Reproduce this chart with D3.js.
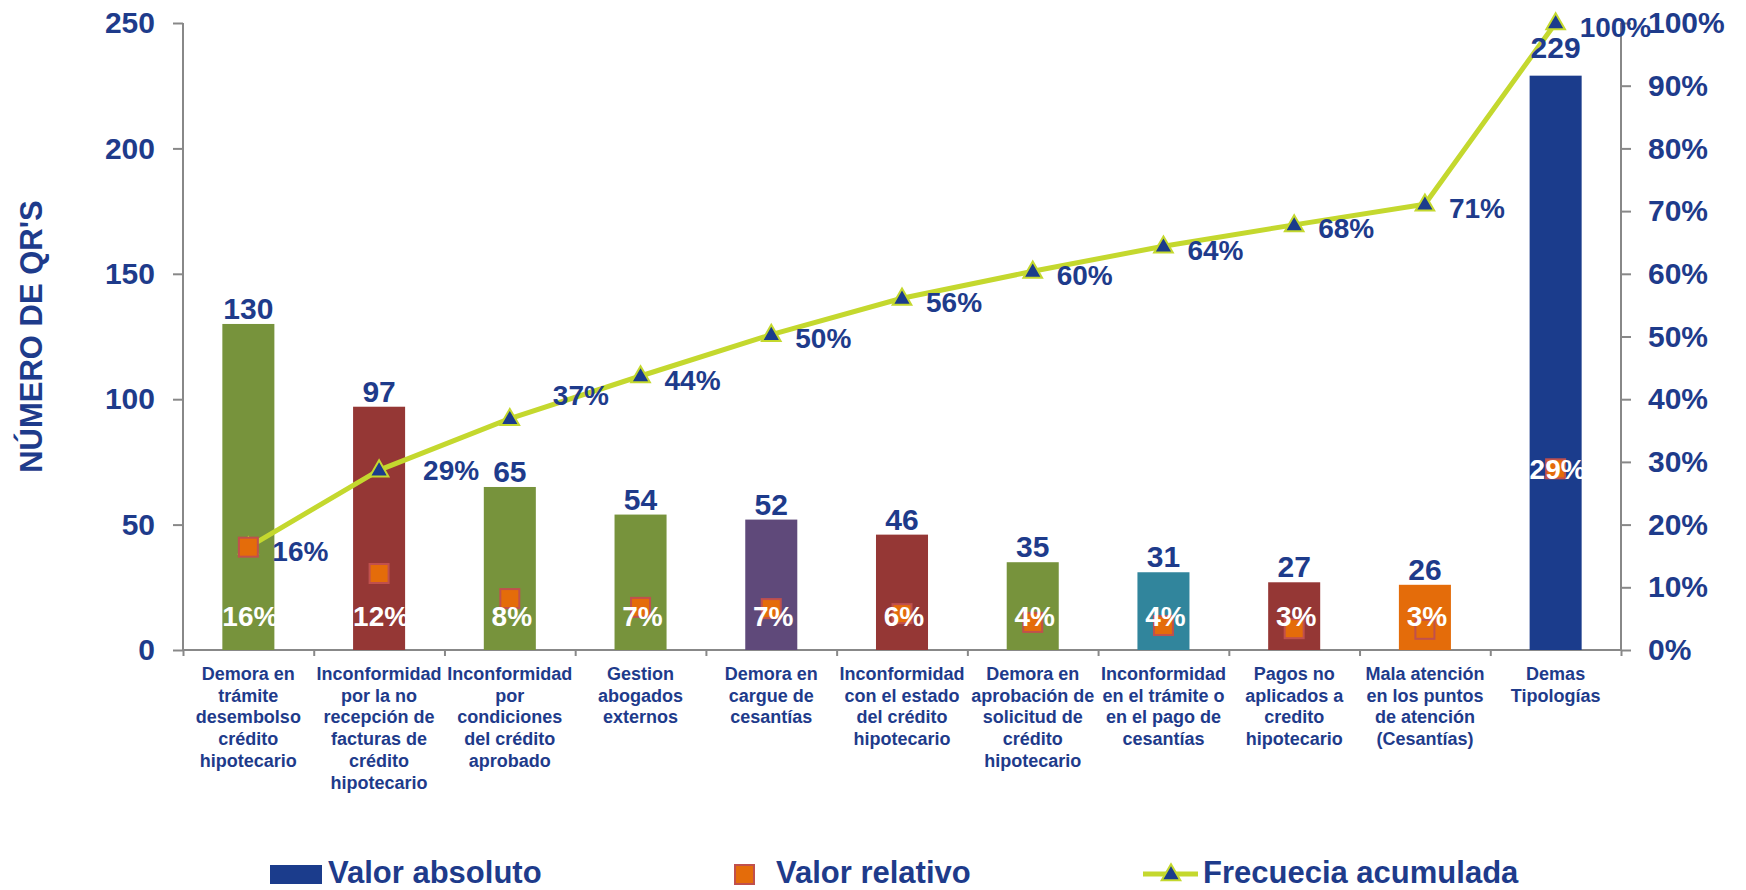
<!DOCTYPE html>
<html>
<head>
<meta charset="utf-8">
<script src="https://cdn.jsdelivr.net/npm/d3@7"></script>
<style>
  html, body { margin: 0; padding: 0; background: #fff; }
  svg { display: block; font-family: "Liberation Sans", Arial, sans-serif; font-weight: bold; }
</style>
</head>
<body>
<svg id="chart" width="1746" height="890"></svg>
<script>
// ---------- DATA ----------
const categories = [
  "Demora en\ntrámite\ndesembolso\ncrédito\nhipotecario",
  "Inconformidad\npor la no\nrecepción de\nfacturas de\ncrédito\nhipotecario",
  "Inconformidad\npor\ncondiciones\ndel crédito\naprobado",
  "Gestion\nabogados\nexternos",
  "Demora en\ncargue de\ncesantías",
  "Inconformidad\ncon el estado\ndel crédito\nhipotecario",
  "Demora en\naprobación de\nsolicitud de\ncrédito\nhipotecario",
  "Inconformidad\nen el trámite o\nen el pago de\ncesantías",
  "Pagos no\naplicados a\ncredito\nhipotecario",
  "Mala atención\nen los puntos\nde atención\n(Cesantías)",
  "Demas\nTipologías"
];
const valorAbsoluto   = [130, 97, 65, 54, 52, 46, 35, 31, 27, 26, 229];
const valorRelativo   = [16.4, 12.2, 8.2, 6.8, 6.6, 5.8, 4.4, 3.9, 3.4, 3.3, 28.9];
const frecuenciaAcum  = [16.4, 28.7, 36.9, 43.7, 50.3, 56.1, 60.4, 64.4, 67.8, 71.1, 100];
const barColors = ["#77933C", "#953735", "#77933C", "#77933C", "#5F497A", "#953735",
                   "#77933C", "#31859C", "#953735", "#E46C0A", "#1B3C8C"];
const leftTicks  = [0, 50, 100, 150, 200, 250];
const rightTicks = [0, 10, 20, 30, 40, 50, 60, 70, 80, 90, 100];
const legendLabels = ["Valor absoluto", "Valor relativo", "Frecuecia acumulada"];
const yTitle = "NÚMERO DE QR'S";

// ---------- STYLE ----------
const NAVY = "#1E3B8B";
const LIME = "#C4D82E";
const ORANGE = "#E46C0A";
const SQ_STROKE = "#C0504D";
const AXIS = "#888888";

const svg = d3.select("#chart");
const pL = 183, pR = 1621, pT = 23, pB = 650;

const x = d3.scaleBand().domain(d3.range(categories.length))
  .range([pL, pR]).paddingInner(0.602).paddingOuter(0.301);
const yL = d3.scaleLinear().domain([0, 250]).range([pB, pT]);
const yR = d3.scaleLinear().domain([0, 100]).range([pB, pT]);
const cx = i => x(i) + x.bandwidth() / 2;

// ---------- AXES ----------
const gL = svg.append("g").attr("transform", `translate(${pL},0)`)
  .call(d3.axisLeft(yL).tickValues(leftTicks).tickSize(10).tickPadding(18));
const gR = svg.append("g").attr("transform", `translate(${pR},0)`)
  .call(d3.axisRight(yR).tickValues(rightTicks).tickSize(10).tickPadding(17).tickFormat(d => d + "%"));
const gB = svg.append("g").attr("transform", `translate(0,${pB})`)
  .call(d3.axisBottom(d3.scaleLinear().domain([0, categories.length]).range([pL, pR]))
    .tickValues(d3.range(0, categories.length + 1)).tickSize(6).tickFormat(""));
[gL, gR, gB].forEach(g => {
  g.select(".domain").attr("stroke", AXIS).attr("stroke-width", 2);
  g.selectAll(".tick line").attr("stroke", AXIS).attr("stroke-width", 2);
  g.selectAll("text").attr("fill", NAVY).attr("font-size", 30).attr("font-weight", "bold")
    .attr("font-family", "'Liberation Sans', Arial, sans-serif");
});
gB.select(".domain").attr("d", `M${pL},0H${pR}`);
gL.select(".domain").attr("d", `M0,${pT}V${pB}`);
gR.select(".domain").attr("d", `M0,${pT}V${pB}`);

// y title
svg.append("text")
  .attr("transform", `translate(42,${(pT + pB) / 2}) rotate(-90)`)
  .attr("text-anchor", "middle").attr("fill", NAVY).attr("font-size", 31)
  .text(yTitle);

// category labels
const catG = svg.append("g");
categories.forEach((c, i) => {
  const t = catG.append("text").attr("text-anchor", "middle").attr("fill", NAVY)
    .attr("font-size", 18).attr("x", cx(i)).attr("y", 680);
  c.split("\n").forEach((line, k) => {
    t.append("tspan").attr("x", cx(i)).attr("dy", k === 0 ? 0 : 21.7).text(line);
  });
});

// ---------- BARS ----------
svg.append("g").selectAll("rect").data(valorAbsoluto).join("rect")
  .attr("x", (d, i) => x(i)).attr("width", x.bandwidth())
  .attr("y", d => yL(d)).attr("height", d => pB - yL(d))
  .attr("fill", (d, i) => barColors[i]);

// ---------- CUMULATIVE LINE ----------
const line = d3.line().x((d, i) => cx(i)).y(d => yR(d));
svg.append("path").datum(frecuenciaAcum).attr("d", line)
  .attr("fill", "none").attr("stroke", LIME).attr("stroke-width", 5).attr("stroke-linejoin", "round");
svg.append("g").selectAll("path").data(frecuenciaAcum).join("path")
  .attr("d", d3.symbol(d3.symbolTriangle, 150))
  .attr("transform", (d, i) => `translate(${cx(i)},${yR(d) + 1})`)
  .attr("fill", "#1B3C8C").attr("stroke", LIME).attr("stroke-width", 2);

// ---------- RELATIVE SQUARES ----------
svg.append("g").selectAll("rect").data(valorRelativo).join("rect")
  .attr("x", (d, i) => cx(i) - 9.5).attr("y", d => yR(d) - 9.5)
  .attr("width", 19).attr("height", 19)
  .attr("fill", ORANGE).attr("stroke", SQ_STROKE).attr("stroke-width", 2);

// ---------- LABELS ----------
// bar values
const valueLabelLift = i => (i === categories.length - 1 ? 18 : 5);
svg.append("g").selectAll("text").data(valorAbsoluto).join("text")
  .attr("x", (d, i) => cx(i)).attr("y", (d, i) => yL(d) - valueLabelLift(i))
  .attr("text-anchor", "middle").attr("fill", NAVY).attr("font-size", 30)
  .text(d => d);

// cumulative labels (manual nudges for the two crowded ones)
const cumNudge = { 1: [44, 0], 2: [43, -23] };
svg.append("g").selectAll("text").data(frecuenciaAcum).join("text")
  .attr("x", (d, i) => cx(i) + (cumNudge[i] ? cumNudge[i][0] : 24))
  .attr("y", (d, i) => yR(d) + (cumNudge[i] ? cumNudge[i][1] : 4))
  .attr("dominant-baseline", "central").attr("fill", NAVY).attr("font-size", 28)
  .text(d => Math.round(d) + "%");

// relative labels (white, inside bars)
svg.append("g").selectAll("text").data(valorRelativo).join("text")
  .attr("x", (d, i) => cx(i) + 2)
  .attr("y", d => (d >= 20 ? yR(d) + 1 : 616))
  .attr("text-anchor", "middle").attr("dominant-baseline", "central")
  .attr("fill", "#ffffff").attr("font-size", 28)
  .text(d => Math.round(d) + "%");

// ---------- LEGEND ----------
const lg = svg.append("g");
lg.append("rect").attr("x", 270).attr("y", 865).attr("width", 52).attr("height", 19).attr("fill", "#1B3C8C");
lg.append("text").attr("x", 328).attr("y", 883).attr("fill", NAVY).attr("font-size", 31).text(legendLabels[0]);
lg.append("rect").attr("x", 735).attr("y", 865).attr("width", 19).attr("height", 19)
  .attr("fill", ORANGE).attr("stroke", SQ_STROKE).attr("stroke-width", 2);
lg.append("text").attr("x", 776).attr("y", 883).attr("fill", NAVY).attr("font-size", 31).text(legendLabels[1]);
lg.append("line").attr("x1", 1143).attr("x2", 1198).attr("y1", 874).attr("y2", 874)
  .attr("stroke", LIME).attr("stroke-width", 5);
lg.append("path").attr("d", d3.symbol(d3.symbolTriangle, 150))
  .attr("transform", "translate(1171,875)").attr("fill", "#1B3C8C").attr("stroke", LIME).attr("stroke-width", 2);
lg.append("text").attr("x", 1203).attr("y", 883).attr("fill", NAVY).attr("font-size", 31).text(legendLabels[2]);
</script>
</body>
</html>
